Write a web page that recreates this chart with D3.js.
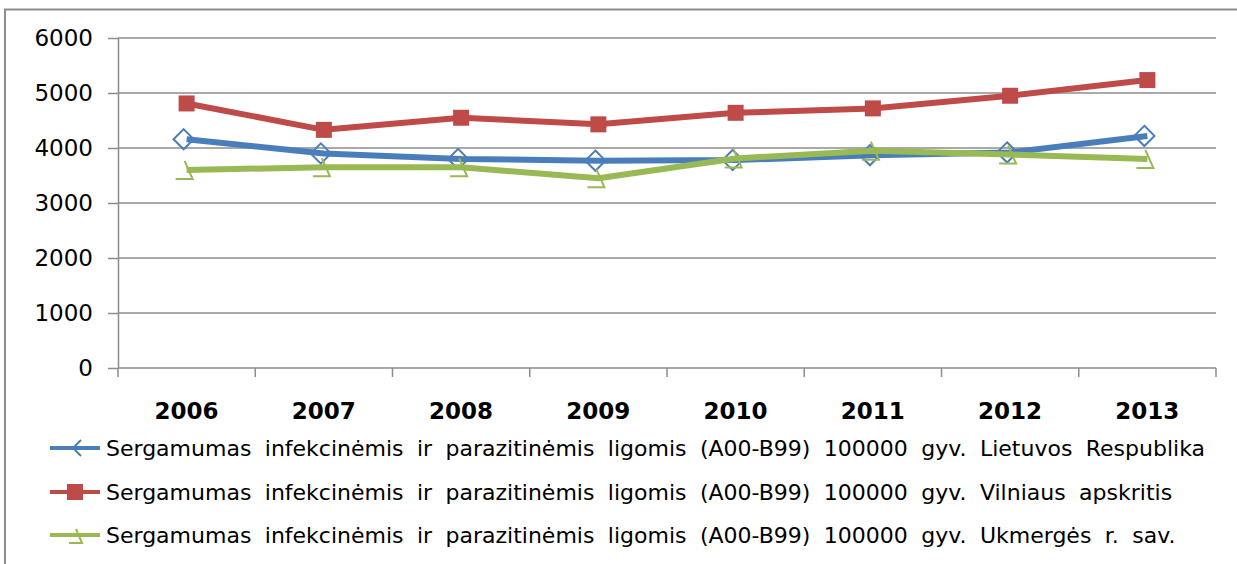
<!DOCTYPE html>
<html>
<head>
<meta charset="utf-8">
<title>Sergamumas</title>
<style>
  body { margin: 0; background: #fff; }
  text { font-family: "DejaVu Sans", Verdana, sans-serif; fill: #000; }
  .grid line { stroke: #8c8c8c; stroke-width: 1.5px; }
  .axis path, .axis line { stroke: #8c8c8c; stroke-width: 1.5px; }
</style>
</head>
<body>
<svg width="1237" height="564"></svg>
<script src="https://d3js.org/d3.v7.min.js"></script>
<script>
var years = ["2006", "2007", "2008", "2009", "2010", "2011", "2012", "2013"];
var lietuva = [4160, 3900, 3800, 3770, 3780, 3870, 3920, 4220];
var vilnius = [4810, 4330, 4550, 4430, 4640, 4720, 4950, 5235];
var ukmerge = [3600, 3650, 3650, 3450, 3810, 3950, 3880, 3800];
var yTicks = [0, 1000, 2000, 3000, 4000, 5000, 6000];
var labels = [
  "Sergamumas infekcinėmis ir parazitinėmis ligomis (A00-B99) 100000 gyv. Lietuvos Respublika",
  "Sergamumas infekcinėmis ir parazitinėmis ligomis (A00-B99) 100000 gyv. Vilniaus apskritis",
  "Sergamumas infekcinėmis ir parazitinėmis ligomis (A00-B99) 100000 gyv. Ukmergės r. sav."
];

var series = [
  { values: lietuva, color: "#4a7ebb", shape: "diamond", label: labels[0] },
  { values: vilnius, color: "#be4b48", shape: "square", label: labels[1] },
  { values: ukmerge, color: "#98b954", shape: "triangle", label: labels[2] }
];

var svg = d3.select("svg");
var plotL = 118, plotR = 1216, plotT = 38, plotB = 368;

// outer frame
svg.append("path")
  .attr("d", "M5,580V9.5H1240")
  .attr("fill", "none").attr("stroke", "#8c8c8c").attr("stroke-width", 2);

var x = d3.scaleBand().domain(years).range([plotL, plotR]);
var y = d3.scaleLinear().domain([0, 6000]).range([plotB, plotT]);

// gridlines
svg.append("g").attr("class", "grid")
  .selectAll("line").data(yTicks.slice(1)).enter().append("line")
  .attr("x1", plotL).attr("x2", plotR)
  .attr("y1", function(d) { return y(d); }).attr("y2", function(d) { return y(d); });

// y axis
var yAxis = svg.append("g").attr("class", "axis")
  .attr("transform", "translate(" + plotL + ",0)")
  .call(d3.axisLeft(y).tickValues(yTicks).tickFormat(d3.format("d"))
    .tickSize(10).tickSizeOuter(0).tickPadding(15));
yAxis.selectAll("text").style("font-size", "23px").style("font-family", "DejaVu Sans, sans-serif");

// x axis with boundary ticks
var xg = svg.append("g").attr("class", "axis");
xg.append("line").attr("x1", plotL).attr("x2", plotR).attr("y1", plotB).attr("y2", plotB);
var bounds = years.map(function(d) { return x(d); }).concat([plotR]);
xg.selectAll(".tk").data(bounds).enter().append("line")
  .attr("x1", function(d) { return d; }).attr("x2", function(d) { return d; })
  .attr("y1", plotB).attr("y2", plotB + 9);
xg.selectAll("text").data(years).enter().append("text")
  .attr("x", function(d) { return x(d) + x.bandwidth() / 2; })
  .attr("y", 419)
  .attr("text-anchor", "middle")
  .style("font-size", "23px").style("font-weight", "bold")
  .text(function(d) { return d; });

var cx = function(i) { return x(years[i]) + x.bandwidth() / 2; };

function marker(g, shape, color, px, py) {
  if (shape === "square") {
    g.append("rect").attr("x", px - 8).attr("y", py - 8).attr("width", 16).attr("height", 16)
      .attr("fill", color);
  } else if (shape === "diamond") {
    g.append("path").attr("d", d3.symbol(d3.symbolDiamond2, 260)())
      .attr("transform", "translate(" + (px - 3) + "," + py + ")")
      .attr("fill", "none").attr("stroke", color).attr("stroke-width", 2);
  } else {
    g.append("path").attr("d", "M" + (px - 11) + "," + (py + 9) + "H" + (px + 6) + "L" + (px - 2) + "," + (py - 9))
      .attr("fill", "none").attr("stroke", color).attr("stroke-width", 2);
  }
}

var line = d3.line().x(function(d, i) { return cx(i); }).y(function(d) { return y(d); });

series.forEach(function(s) {
  var g = svg.append("g");
  g.append("path").datum(s.values).attr("d", line)
    .attr("fill", "none").attr("stroke", s.color).attr("stroke-width", 6)
    .attr("stroke-linejoin", "round");
  s.values.forEach(function(v, i) { marker(g, s.shape, s.color, cx(i), y(v)); });
});

// legend
var rows = [448, 492, 535];
var legendTexts = [];
series.forEach(function(s, k) {
  var g = svg.append("g");
  g.append("line").attr("x1", 50).attr("x2", 100).attr("y1", rows[k]).attr("y2", rows[k])
    .attr("stroke", s.color).attr("stroke-width", 4);
  if (s.shape === "square") marker(g, "square", s.color, 75, rows[k]);
  else if (s.shape === "diamond") {
    g.append("path").attr("d", "M81," + (rows[k] - 8) + "L73," + rows[k] + "L81," + (rows[k] + 8))
      .attr("fill", "none").attr("stroke", s.color).attr("stroke-width", 2);
  } else {
    g.append("path").attr("d", "M69," + (rows[k] + 8) + "H82L76," + (rows[k] - 6))
      .attr("fill", "none").attr("stroke", s.color).attr("stroke-width", 2);
  }
  legendTexts.push(g.append("text").attr("x", 106).attr("y", rows[k] + 8)
    .style("font-size", "22px").text(s.label));
});

// stretch word spacing so the first row ends at the right like the reference
var natural = legendTexts[0].node().getComputedTextLength();
var spaces = labels[0].split(" ").length - 1;
var ws = Math.max(0, (1205 - 106 - natural) / spaces);
legendTexts.forEach(function(t) { t.style("word-spacing", ws + "px"); });
</script>
</body>
</html>
